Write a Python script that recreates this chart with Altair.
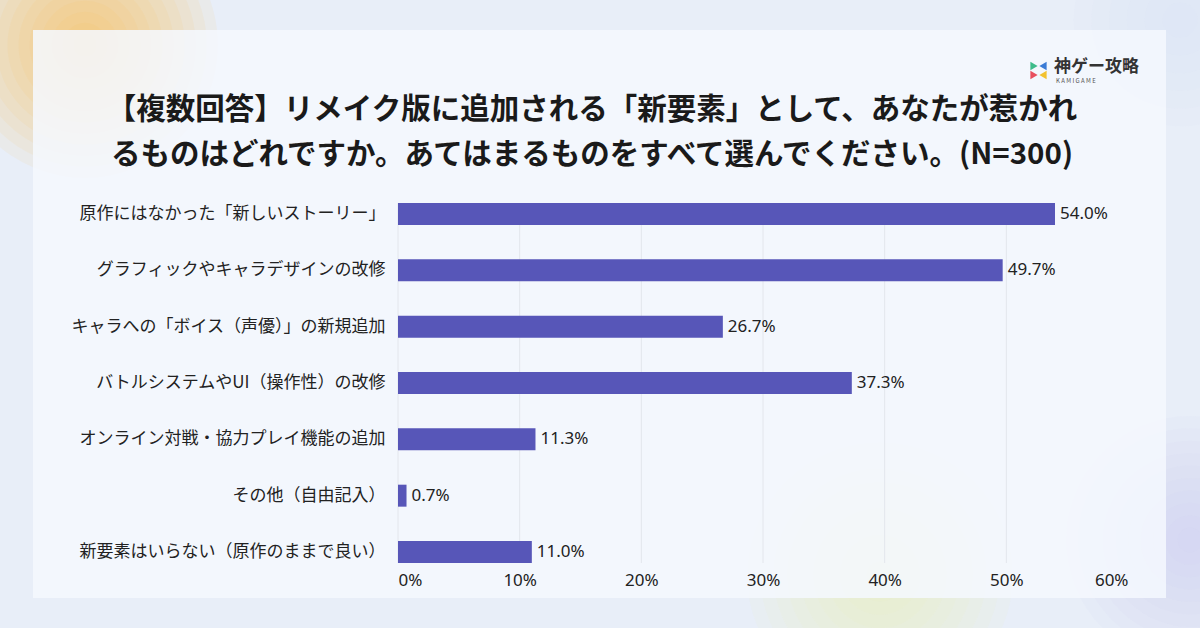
import altair as alt
import pandas as pd

categories = [
    "原作にはなかった「新しいストーリー」",
    "グラフィックやキャラデザインの改修",
    "キャラへの「ボイス（声優）」の新規追加",
    "バトルシステムやUI（操作性）の改修",
    "オンライン対戦・協力プレイ機能の追加",
    "その他（自由記入）",
    "新要素はいらない（原作のままで良い）",
]
values = [54.0, 49.7, 26.7, 37.3, 11.3, 0.7, 11.0]
tick_values = [0, 10, 20, 30, 40, 50, 60]
grid_values = [0, 10, 20, 30, 40, 50]
title_lines = [
    "【複数回答】リメイク版に追加される「新要素」として、あなたが惹かれ",
    "るものはどれですか。あてはまるものをすべて選んでください。(N=300)",
]

FONT = "Noto Sans CJK JP"
LATIN = "Noto Sans"
W, H = 730, 360
L, T = 398, 203

df = pd.DataFrame({"cat": categories, "val": values})
one = alt.Data(values=[{"a": 1}])

def blob(cx, cy, color, rmax, n, op):
    layers = []
    for k in range(n):
        r = rmax * (n - k) / n
        layers.append(
            alt.Chart(one).mark_circle(color=color, opacity=op).encode(
                x=alt.value(cx - L), y=alt.value(cy - T), size=alt.value(3.1416 * r * r)
            )
        )
    return layers

blobs = []
blobs += blob(85, 45, "#fbb93a", 150, 12, 0.07)
blobs += blob(880, 575, "#eef5b8", 150, 10, 0.08)
blobs += blob(1190, 540, "#cfc8f5", 140, 10, 0.08)
blobs += blob(1180, 20, "#d8e4f6", 120, 6, 0.1)

card = alt.Chart(one).mark_rect(color="#f5f8fe", opacity=0.86).encode(
    x=alt.value(33 - L), x2=alt.value(1166 - L), y=alt.value(30 - T), y2=alt.value(598 - T)
)

xscale = alt.Scale(domain=[0, 60])

grid = alt.Chart(pd.DataFrame({"t": grid_values})).mark_rule(color="#e3e6ec", strokeWidth=1).encode(
    x=alt.X("t:Q", scale=xscale)
)

base = alt.Chart(df).encode(
    y=alt.Y(
        "cat:N",
        sort=categories,
        scale=alt.Scale(paddingInner=0.61, paddingOuter=0),
        axis=alt.Axis(
            title=None, domain=False, ticks=False, labelFont=FONT, labelFontSize=17,
            labelColor="#222222", labelPadding=13, labelLimit=400, zindex=1,
        ),
    ),
    x=alt.X(
        "val:Q",
        scale=xscale,
        axis=alt.Axis(
            title=None, domain=False, ticks=False, grid=False, values=tick_values,
            labelExpr="datum.value + '%'", labelFont=LATIN, labelFontSize=17,
            labelColor="#222222", labelPadding=9, zindex=1,
        ),
    ),
)

bars = base.mark_bar(color="#5756b8")
labels = base.transform_calculate(lab="format(datum.val, '.1f') + '%'").mark_text(
    align="left", baseline="middle", dx=5, font=LATIN, fontSize=17, color="#222222"
).encode(text="lab:N")

titles = []
for i, line in enumerate(title_lines):
    titles.append(
        alt.Chart(one).mark_text(
            text=line, font=FONT, fontSize=29.5, fontWeight="bold", color="#1a1a1a",
            align="center", baseline="middle",
        ).encode(x=alt.value(592 - L), y=alt.value([110, 155][i] - T))
    )

logo_text = alt.Chart(one).mark_text(
    text="神ゲー攻略", font=FONT, fontSize=17, fontWeight="bold", color="#333333",
    align="left", baseline="middle",
).encode(x=alt.value(1054 - L), y=alt.value(67 - T))
logo_sub = alt.Chart(one).mark_text(
    text="K  A  M  I  G  A  M  E", font=FONT, fontSize=6, color="#555555",
    align="left", baseline="middle",
).encode(x=alt.value(1056 - L), y=alt.value(81 - T))

icon = []
for (px, py, shp, col) in [
    (1034, 66, "triangle-right", "#3dbb8a"),
    (1043, 66, "triangle-left", "#3a7bd5"),
    (1034, 75, "triangle-right", "#e84f5e"),
    (1043, 75, "triangle-left", "#f2c230"),
]:
    icon.append(
        alt.Chart(one).mark_point(shape=shp, filled=True, color=col, opacity=1).encode(
            x=alt.value(px - L), y=alt.value(py - T), size=alt.value(70)
        )
    )

chart = alt.layer(
    *blobs, card, grid, bars, labels, *titles, logo_text, logo_sub, *icon
).properties(
    width=W, height=H,
    padding={"left": L, "top": T, "right": 1200 - L - W, "bottom": 628 - T - H},
    autosize=alt.AutoSizeParams(type="none"),
    background="#e8eef8",
).configure_view(stroke=None)

chart.save("out.html", embed_options={"renderer": "svg", "actions": False})
